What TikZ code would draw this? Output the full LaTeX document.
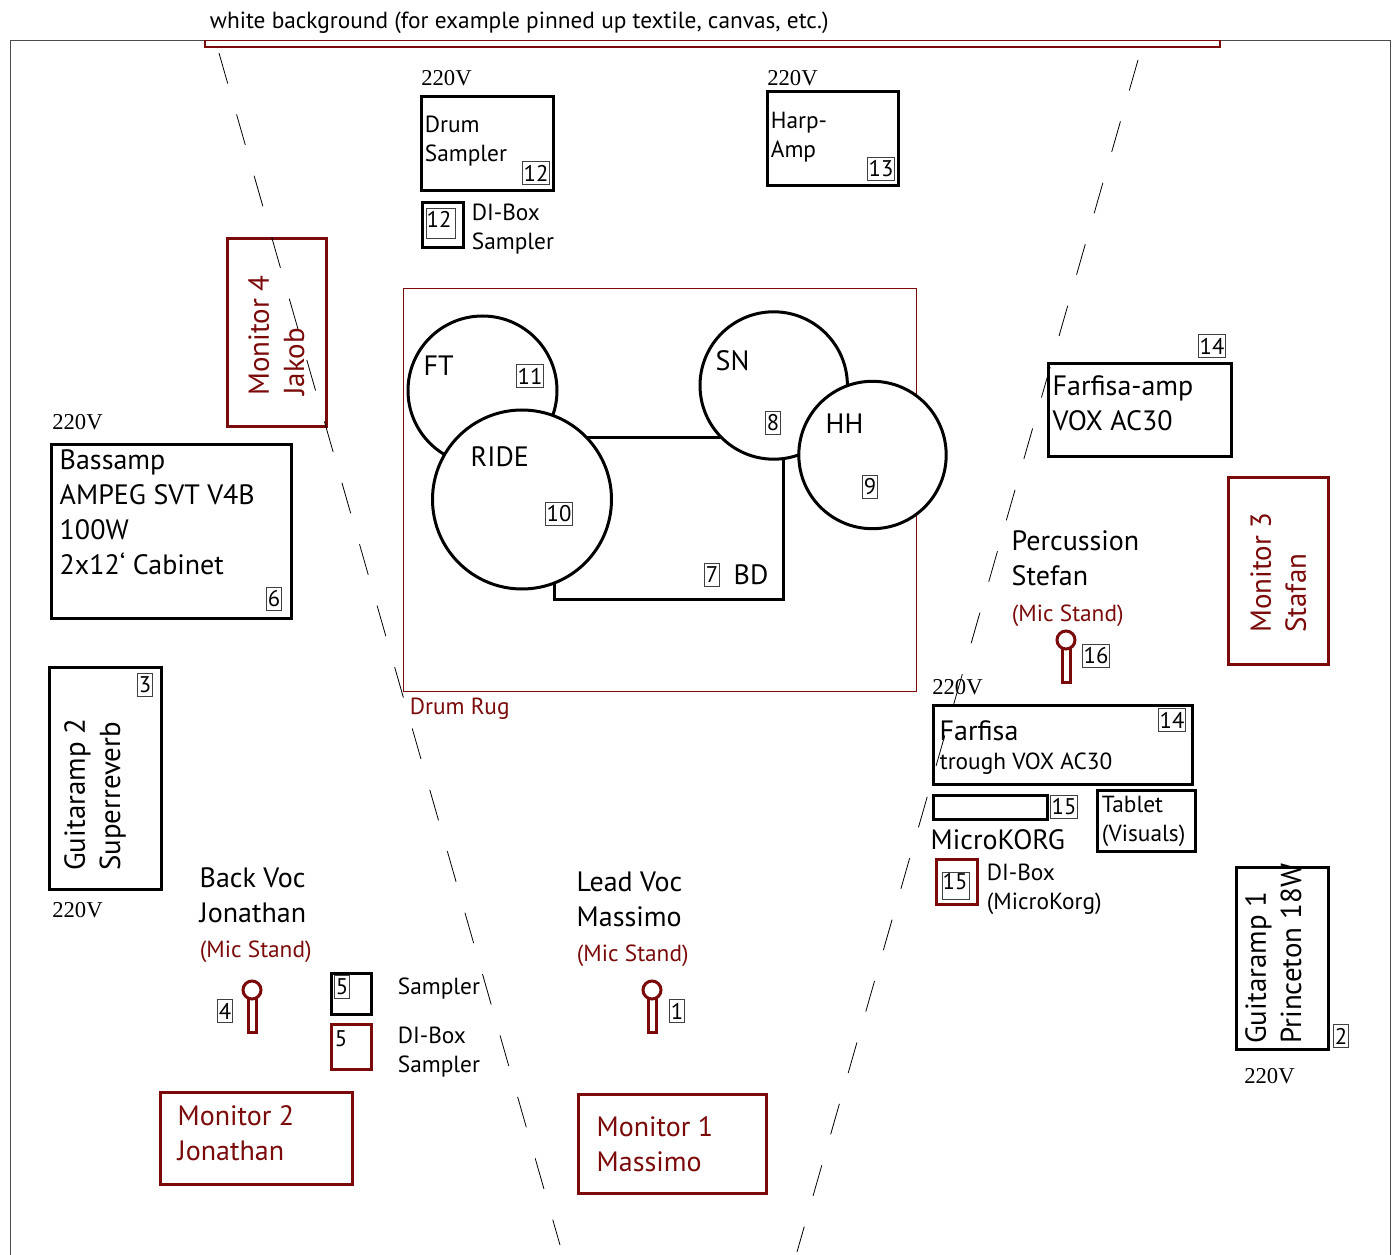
\documentclass[tikz,border=0pt]{standalone}
\usepackage{fontspec}
\setmainfont{PT Sans}
\newfontfamily\voltfont{Liberation Serif}
\usepackage{xcolor}
\definecolor{stagered}{HTML}{7B0A0A}
\tikzset{
  gear/.style={draw=black,line width=2.25pt,fill=white},
  redgear/.style={draw=stagered,line width=2.25pt,fill=white},
  drum/.style={draw=black,line width=2.25pt,fill=white},
  bigtext/.style={font=\fontsize{21}{26.4}\selectfont,align=left,inner sep=0pt,xshift=-0.4pt},
  sidetext/.style={font=\fontsize{21.7}{26.4}\selectfont,align=left,inner sep=0pt,rotate=90},
  midtext/.style={font=\fontsize{17.5}{21.75}\selectfont,align=left,inner sep=0pt,xshift=-0.3pt},
  redtext/.style={text=stagered},
  volt/.style={font=\voltfont\fontsize{17}{20}\selectfont,inner sep=0pt,anchor=base west},
  tag/.style={draw=black!75,line width=0.5pt,fill=white,font=\fontsize{17}{18}\selectfont,inner xsep=1.1pt,inner ysep=0pt,minimum height=17pt},
  tagnum/.style={font=\fontsize{17}{18}\selectfont,inner sep=0pt},
  bareline/.style={draw=black,line width=0.6pt,dash pattern=on 23.8pt off 24.1pt}
}
\begin{document}
\begin{tikzpicture}[x=0.75pt,y=-0.75pt]
\useasboundingbox (0,0) rectangle (1397,1255);
% room and backdrop
\draw[black!70,line width=0.5pt] (10,1255) -- (10,40.5) -- (1390,40.5) -- (1390,1255);
\draw[draw=stagered,line width=0.9pt,fill=white] (205,40.5) rectangle (1220,47);
\node[midtext,anchor=base west] (backdrop) at (210,28.5) {white background (for example pinned up textile, canvas, etc.)};
% drum rug and kit
\draw[draw=stagered,line width=0.5pt] (403,288) rectangle (916,691);
\node[midtext,redtext,anchor=base west] (rug) at (410,714) {Drum Rug};
\draw[drum] (554.6,438) rectangle (783,599.3);
\draw[drum] (482.5,390.5) circle (74.5);
\draw[drum] (522,499.5) circle (89.5);
\draw[drum] (773.7,385.5) circle (73.7);
\draw[drum] (872.5,455) circle (73.7);
\node[bigtext,anchor=base west] (ft) at (424,375.5) {FT};
\node[bigtext,anchor=base west] (ride) at (471,466) {RIDE};
\node[bigtext,anchor=base west] (sn) at (716,370.5) {SN};
\node[bigtext,anchor=base west] (hh) at (826,433.5) {HH};
\node[bigtext,anchor=base west] (bd) at (734,584) {BD};
% amps and boxes
\draw[gear] (421,97) rectangle (553,191);
\draw[gear] (767,92) rectangle (898,186);
\draw[gear] (422,203) rectangle (463,248);
\draw[gear] (51,445) rectangle (291,618);
\draw[gear] (49,667) rectangle (161,889);
\draw[gear] (1048,364) rectangle (1231,457);
\draw[gear] (933,705) rectangle (1192,784);
\draw[gear] (933,795) rectangle (1047,819);
\draw[gear] (1097,790) rectangle (1195,851);
\draw[gear] (1236,867) rectangle (1328,1049);
\draw[gear] (331,973) rectangle (371,1014);
\draw[redgear] (331,1024) rectangle (371,1069);
\draw[redgear] (936,859) rectangle (977,904);
% monitors
\draw[redgear] (227,239) rectangle (326,427);
\draw[redgear] (1228,477) rectangle (1328,664);
\draw[redgear] (160,1092) rectangle (352,1184);
\draw[redgear] (578,1094) rectangle (766,1193);
% mic stands
\foreach \mx/\my in {252/990,652/990,1066/640}{
  \draw[redgear] (\mx-4,\my+8) rectangle (\mx+4,\my+42);
  \draw[redgear] (\mx,\my) circle (9);
}
% labels
\node[midtext,anchor=north west] (drumsampler) at (425,116) {Drum\\Sampler};
\node[midtext,anchor=north west] (harpamp) at (771,111.5) {Harp-\\Amp};
\node[midtext,anchor=north west] (dibox) at (472,204) {DI-Box\\Sampler};
\node[bigtext,anchor=north west] (bassamp) at (60,449) {Bassamp\\AMPEG SVT V4B\\100W\\2x12‘ Cabinet};
\node[sidetext,anchor=north west] (guitar2) at (64,871) {Guitaramp 2\\Superreverb};
\node[bigtext,anchor=north west] (farfisaamp) at (1053,375) {Farfisa-amp\\VOX AC30};
\node[bigtext,anchor=north west] (percussion) at (1012,530) {Percussion\\Stefan};
\node[midtext,redtext,anchor=base west] (micperc) at (1012,621) {(Mic Stand)};
\node[bigtext,anchor=base west] (farfisa) at (940,740) {Farfisa};
\node[midtext,anchor=base west] (trough) at (940,769) {trough VOX AC30};
\node[bigtext,anchor=base west] (korg) at (931,849) {MicroKORG};
\node[midtext,anchor=north west] (tablet) at (1102,796) {Tablet\\(Visuals)};
\node[midtext,anchor=north west] (dikorg) at (987,864) {DI-Box\\(MicroKorg)};
\node[sidetext,anchor=north west] (guitar1) at (1245,1044) {Guitaramp 1\\Princeton 18W};
\node[bigtext,anchor=north west] (backvoc) at (200,867) {Back Voc\\Jonathan};
\node[midtext,redtext,anchor=base west] (micback) at (200,957) {(Mic Stand)};
\node[midtext,anchor=base west] (sampler) at (398,994) {Sampler};
\node[midtext,anchor=north west] (disampler) at (398,1027) {DI-Box\\Sampler};
\node[bigtext,anchor=north west] (leadvoc) at (577,871.5) {Lead Voc\\Massimo};
\node[midtext,redtext,anchor=base west] (miclead) at (577,961) {(Mic Stand)};
\node[sidetext,redtext,anchor=north west] (mon4) at (248,396) {Monitor 4\\Jakob};
\node[sidetext,redtext,anchor=north west] (mon3) at (1250,633) {Monitor 3\\Stafan};
\node[bigtext,redtext,anchor=north west] (mon2) at (178,1105) {Monitor 2\\Jonathan};
\node[bigtext,redtext,anchor=north west] (mon1) at (597,1116) {Monitor 1\\Massimo};
% power
\foreach \vx/\vy in {421/86,767/86,52/430,52/917,932/694,1244/1083}{
  \node[volt] (volt\vx) at (\vx,\vy) {220V};
}
% numbers
\node[tag] (tag11) at (530,376) {11};
\node[tag] (tag10) at (559,514) {10};
\node[tag] (tag8) at (773,423) {8};
\node[tag] (tag9) at (870,487) {9};
\node[tag] (tag7) at (712,575) {7};
\node[tag] (tag12) at (536,173) {12};
\node[tag,minimum width=21.7pt,minimum height=23pt] (tag12di) at (440.5,223.5) {};
\node[tagnum] (num12di) at (439,219) {12};
\node[tag] (tag13) at (881,169) {13};
\node[tag] (tag14) at (1212,346) {14};
\node[tag] (tag14b) at (1172,720) {14};
\node[tag] (tag15) at (1064,807) {15};
\node[tag,minimum width=20pt,minimum height=20pt] (tag15di) at (955.5,885.5) {};
\node[tagnum] (num15di) at (955,882) {15};
\node[tag] (tag16) at (1096,656) {16};
\node[tag] (tag3) at (145,685) {3};
\node[tag] (tag6) at (274,599) {6};
\node[tag] (tag5) at (342,987) {5};
\node[tagnum] (num5) at (341,1039) {5};
\node[tag] (tag4) at (225,1011) {4};
\node[tag] (tag1) at (677,1011) {1};
\node[tag] (tag2) at (1341,1036) {2};
% sight lines
\coordinate (leftfar) at (219,53);
\coordinate (leftnear) at (560,1245);
\coordinate (rightfar) at (1138,60);
\coordinate (rightnear) at (797,1252);
\draw[bareline] (leftfar) -- (leftnear);
\draw[bareline] (rightfar) -- (rightnear);
\end{tikzpicture}
\end{document}
